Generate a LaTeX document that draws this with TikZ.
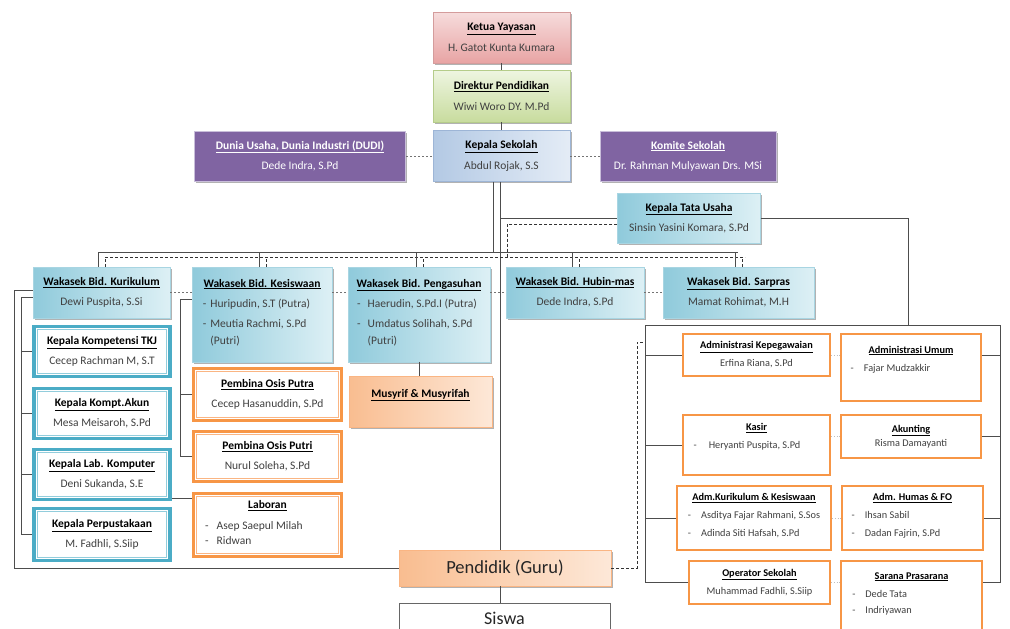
\documentclass[tikz,border=0pt]{standalone}
\usepackage{fontspec}
\setmainfont{Carlito}
\usetikzlibrary{shadows}

\definecolor{namegray}{HTML}{404040}
\definecolor{linegray}{HTML}{4D4D4D}
\definecolor{ketuatop}{HTML}{F6DCDC}
\definecolor{ketuabot}{HTML}{E8A4A4}
\definecolor{ketualine}{HTML}{D49C9C}
\definecolor{dirtop}{HTML}{EEF5E1}
\definecolor{dirbot}{HTML}{C8DC9E}
\definecolor{dirline}{HTML}{B5CC8A}
\definecolor{kepleft}{HTML}{B3C9E4}
\definecolor{kepright}{HTML}{E4ECF6}
\definecolor{kepline}{HTML}{9DB5D6}
\definecolor{ungu}{HTML}{8064A2}
\definecolor{unguline}{HTML}{C9BEDA}
\definecolor{cyanleft}{HTML}{8FCADB}
\definecolor{cyanright}{HTML}{DDF0F5}
\definecolor{cyanline}{HTML}{A8D5E2}
\definecolor{tealbd}{HTML}{4BACC6}
\definecolor{tealin}{HTML}{92CDDC}
\definecolor{oranye}{HTML}{F79646}
\definecolor{oranyein}{HTML}{FAB583}
\definecolor{oranyeleft}{HTML}{F9BD90}
\definecolor{oranyeright}{HTML}{FDE8D8}

\colorlet{titlecolor}{black}
\newcommand{\boxtitle}[1]{\textcolor{titlecolor}{\underline{\textbf{#1}}}}
\newcommand{\dashlist}[2][5pt]{\begin{tabular}[t]{@{}l@{\hspace{#1}}l@{}}#2\end{tabular}}

\begin{document}
\begin{tikzpicture}[x=1pt,y=-1pt,
    conn/.style={draw=linegray,line width=0.9pt},
    dashconn/.style={draw=black!80,line width=0.8pt,dash pattern=on 3pt off 2pt},
    dotconn/.style={draw=black!55,line width=0.8pt,dash pattern=on 2pt off 2pt},
    faint/.style={draw=black!25,line width=0.7pt,dotted},
    orgbox/.style={rectangle,align=center,inner sep=2pt,text=namegray,
        font=\fontsize{11.5}{21}\selectfont},
    boxshadow/.style={drop shadow={shadow xshift=1.5pt,shadow yshift=-1.5pt,
        opacity=0.3,fill=black}},
    ketuabox/.style={orgbox,boxshadow,draw=ketualine,top color=ketuatop,bottom color=ketuabot},
    dirbox/.style={orgbox,boxshadow,draw=dirline,top color=dirtop,bottom color=dirbot},
    kepbox/.style={orgbox,boxshadow,draw=kepline,left color=kepleft,right color=kepright},
    ungubox/.style={orgbox,boxshadow,draw=unguline,line width=1pt,fill=ungu,text=white,
        font=\fontsize{11.5}{20}\selectfont,
        execute at begin node={\colorlet{titlecolor}{white}}},
    cyanbox/.style={orgbox,boxshadow,draw=cyanline,left color=cyanleft,right color=cyanright,
        font=\fontsize{11.5}{20}\selectfont},
    tealbox/.style={orgbox,draw=tealbd,line width=3.5pt,fill=white,
        font=\fontsize{11.5}{20}\selectfont},
    osisbox/.style={orgbox,draw=oranye,line width=3.5pt,fill=white,
        font=\fontsize{11.5}{20}\selectfont},
    orangebox/.style={orgbox,boxshadow,draw=oranyein,left color=oranyeleft,right color=oranyeright},
    stafbox/.style={orgbox,draw=oranye,line width=2.5pt,fill=white,
        font=\fontsize{10.3}{18}\selectfont},
]
\useasboundingbox (0,0) rectangle (1010,629);

% Yayasan and school leadership
\node[ketuabox,minimum width=137pt,minimum height=51pt] (ketua) at (501.5,37.5)
    {\boxtitle{Ketua Yayasan}\\H. Gatot Kunta Kumara};
\node[dirbox,minimum width=137pt,minimum height=52pt] (direktur) at (501.5,96)
    {\boxtitle{Direktur Pendidikan}\\Wiwi Woro DY. M.Pd};
\node[kepbox,minimum width=137pt,minimum height=51pt] (kepsek) at (501.5,156)
    {\boxtitle{Kepala Sekolah}\\Abdul Rojak, S.S};
\node[ungubox,minimum width=211pt,minimum height=50pt] (dudi) at (300,156)
    {\boxtitle{Dunia Usaha, Dunia Industri (DUDI)}\\Dede Indra, S.Pd};
\node[ungubox,minimum width=176pt,minimum height=50pt] (komite) at (688,156)
    {\boxtitle{Komite Sekolah}\\Dr. Rahman Mulyawan Drs. MSi};
\node[cyanbox,minimum width=143pt,minimum height=50pt] (tatausaha) at (689,218)
    {\boxtitle{Kepala Tata Usaha}\\Sinsin Yasini Komara, S.Pd};

% Wakasek row
\node[cyanbox,minimum width=137pt,minimum height=51pt] (kurikulum) at (101.5,292.5)
    {\boxtitle{Wakasek Bid. Kurikulum}\\Dewi Puspita, S.Si};
\node[cyanbox,minimum width=140pt,minimum height=95pt] (kesiswaan) at (262,314.5)
    {\boxtitle{Wakasek Bid. Kesiswaan}\\
     \dashlist[4pt]{- & Huripudin, S.T (Putra)\\ - & Meutia Rachmi, S.Pd\\[-3pt] & (Putri)}\hspace*{11pt}};
\node[cyanbox,minimum width=142pt,minimum height=95pt] (pengasuhan) at (419,314.5)
    {\boxtitle{Wakasek Bid. Pengasuhan}\\
     \dashlist[7pt]{- & Haerudin, S.Pd.I (Putra)\\ - & Umdatus Solihah, S.Pd\\[-3pt] & (Putri)}\hspace*{4pt}};
\node[cyanbox,minimum width=138pt,minimum height=51pt] (hubin) at (575,292.5)
    {\boxtitle{Wakasek Bid. Hubin-mas}\\Dede Indra, S.Pd};
\node[cyanbox,minimum width=151pt,minimum height=51pt] (sarpras) at (738.5,292.5)
    {\boxtitle{Wakasek Bid. Sarpras}\\Mamat Rohimat, M.H};

% Kurikulum staff
\node[tealbox,minimum width=136pt,minimum height=50pt] (tkj) at (102,351.5)
    {\boxtitle{Kepala Kompetensi TKJ}\\Cecep Rachman M, S.T};
\node[tealbox,minimum width=136pt,minimum height=50pt] (akun) at (102,413.5)
    {\boxtitle{Kepala Kompt.Akun}\\Mesa Meisaroh, S.Pd};
\node[tealbox,minimum width=136pt,minimum height=50pt] (lab) at (102,474.5)
    {\boxtitle{Kepala Lab. Komputer}\\Deni Sukanda, S.E};
\node[tealbox,minimum width=136pt,minimum height=52pt] (perpus) at (102,534.5)
    {\boxtitle{Kepala Perpustakaan}\\M. Fadhli, S.Siip};
\foreach \n in {tkj,akun,lab,perpus}
    \draw[tealin,line width=0.8pt] ([shift={(5pt,-5pt)}]\n.north west)
        rectangle ([shift={(-5pt,5pt)}]\n.south east);

% Kesiswaan staff and Laboran
\node[osisbox,minimum width=148pt,minimum height=52pt] (osisputra) at (267.5,394.5)
    {\boxtitle{Pembina Osis Putra}\\Cecep Hasanuddin, S.Pd};
\node[osisbox,minimum width=148pt,minimum height=50pt] (osisputri) at (267.5,456.5)
    {\boxtitle{Pembina Osis Putri}\\Nurul Soleha, S.Pd};
\node[osisbox,minimum width=148pt,minimum height=63pt,font=\fontsize{11.5}{15}\selectfont] (laboran) at (267.5,525)
    {\boxtitle{Laboran}\\[6pt]
     \dashlist[8pt]{- & Asep Saepul Milah\\ - & Ridwan}\hspace*{27pt}};
\foreach \n in {osisputra,osisputri,laboran}
    \draw[oranyein,line width=0.8pt] ([shift={(5pt,-5pt)}]\n.north west)
        rectangle ([shift={(-5pt,5pt)}]\n.south east);

\node[orangebox,minimum width=143pt,minimum height=51pt] (musyrif) at (420.5,401.5)
    {\boxtitle{Musyrif \& Musyrifah}\\[-4pt]~};
\node[orangebox,minimum width=212pt,minimum height=36pt,text=black!85,
    font=\fontsize{18.5}{20}\selectfont] (pendidik) at (505,568) {Pendidik (Guru)};
\node[orgbox,draw=black!60,line width=1pt,fill=white,minimum width=211pt,minimum height=30pt,
    text=black!85,font=\fontsize{18}{20}\selectfont] (siswa) at (504.5,618) {Siswa};

% Tata usaha staff
\node[stafbox,minimum width=147pt,minimum height=42pt] (pegawai) at (756.5,355)
    {\boxtitle{Administrasi Kepegawaian}\\Erfina Riana, S.Pd};
\node[stafbox,minimum width=140pt,minimum height=67pt] (umum) at (911,367.5)
    {\boxtitle{Administrasi Umum}\\\dashlist[10pt]{- & Fajar Mudzakkir}\hspace*{41pt}\null\\~};
\node[stafbox,minimum width=147pt,minimum height=60pt] (kasir) at (756.5,445)
    {\boxtitle{Kasir}\\\dashlist[12pt]{- & Heryanti Puspita, S.Pd}\hspace*{19pt}\null\\~};
\node[stafbox,minimum width=140pt,minimum height=43pt] (akunting) at (911,436.5)
    {\boxtitle{Akunting}\\[-4pt]Risma Damayanti};
\node[stafbox,minimum width=154pt,minimum height=64pt] (admkur) at (754,518)
    {\boxtitle{Adm.Kurikulum \& Kesiswaan}\\
     \dashlist[10pt]{- & Asditya Fajar Rahmani, S.Sos\\ - & Adinda Siti Hafsah, S.Pd}};
\node[stafbox,minimum width=141pt,minimum height=64pt] (humas) at (912.5,518)
    {\boxtitle{Adm. Humas \& FO}\\
     \dashlist[10pt]{- & Ihsan Sabil\\ - & Dadan Fajrin, S.Pd}\hspace*{33pt}};
\node[stafbox,minimum width=141pt,minimum height=43pt] (operator) at (759.5,582.5)
    {\boxtitle{Operator Sekolah}\\Muhammad Fadhli, S.Siip};
\node[stafbox,minimum width=141pt,minimum height=88pt] (sarana) at (911.5,605)
    {\boxtitle{Sarana Prasarana}\\
     \dashlist[10pt]{- & Dede Tata\\[-2pt] - & Indriyawan}\hspace*{59pt}\null\\~\\~};

% chain of command at the top
\draw[conn] (ketua) -- (direktur);
\draw[conn] (direktur) -- (kepsek);
\draw[dotconn] (dudi) -- (kepsek);
\draw[dotconn] (kepsek) -- (komite);

% lines down from Kepala Sekolah
\coordinate (barL) at (98,252);
\coordinate (barR) at (738,252);
\coordinate (dashL) at (105,257);
\coordinate (dashR) at (745,257);
\coordinate (tujoin) at (507,257);
\draw[conn] ([xshift=-8pt]kepsek.south) -- ([xshift=-8pt]kepsek.south |- barL);
\draw[conn] ([xshift=-1.5pt]kepsek.south) -- ([xshift=-1.5pt]kepsek.south |- pendidik.north);
\draw[conn] ([xshift=-1.5pt]kepsek.south |- tatausaha.west) -- (tatausaha.west);
\draw[conn] (barL) -- (barR);
\draw[dashconn] ([yshift=-6pt]tatausaha.west) -| (tujoin);
\draw[dashconn] (dashL) -- (dashR);
\foreach \n in {kurikulum,kesiswaan,pengasuhan,hubin,sarpras}{
    \draw[conn] ([xshift=-3pt]\n.north) -- ([xshift=-3pt]\n.north |- barL);
    \draw[dashconn] ([xshift=4pt]\n.north) -- ([xshift=4pt]\n.north |- dashL);
}

% dotted links between the Wakasek
\draw[dotconn] (kurikulum.east) -- (kurikulum.east -| kesiswaan.west)
    (kurikulum.east -| kesiswaan.east) -- (kurikulum.east -| pengasuhan.west)
    (kurikulum.east -| pengasuhan.east) -- (hubin.west)
    (hubin.east) -- (sarpras.west);

% Kurikulum: outer line to the Guru, inner line to the heads
\draw[conn] ([yshift=2pt]kurikulum.west) -- ++(-18,0) |- (pendidik.west);
\draw[conn] ([yshift=-5pt]kurikulum.west) -- ++(-11,0) coordinate (kspine) |- (perpus.west);
\foreach \n in {tkj,akun,lab}
    \draw[conn] (kspine |- \n.west) -- (\n.west);

% Kesiswaan to Pembina Osis
\draw[conn] ([yshift=15pt]kesiswaan.west) -- ++(-11,0) coordinate (sspine) |- (osisputri.west);
\draw[conn] (sspine |- osisputra.west) -- (osisputra.west);

% Lab to Laboran, Pengasuhan to Musyrif, Guru to Siswa
\coordinate (labin) at ([yshift=-7pt]laboran.north west);
\draw[conn] (lab.east |- labin) -- (labin);
\draw[conn] (pengasuhan.south) -- (pengasuhan.south |- musyrif.north);
\draw[conn] ([xshift=-1.5pt]kepsek.south |- pendidik.south) -- ([xshift=-1.5pt]kepsek.south |- siswa.north);

% Tata usaha frame
\coordinate (tuturn) at (908,325);
\coordinate (frameL) at (645,325);
\coordinate (frameR) at (1000,325);
\draw[conn] (tatausaha.east) -| (tuturn);
\draw[conn] (frameL) -- (frameR);
\draw[conn] (frameL) |- (operator.west);
\foreach \n in {pegawai,kasir,admkur}
    \draw[conn] (frameL |- \n.west) -- (\n.west);
\draw[conn] (frameR) |- (sarana.east |- operator.east);
\draw[conn] (frameR |- pegawai.east) -- (umum.east |- pegawai.east);
\foreach \n in {akunting,humas}
    \draw[conn] (frameR |- \n.east) -- (\n.east);
\draw[faint] (pegawai.east) -- (umum.west |- pegawai.east);
\draw[faint] (kasir.east |- akunting.west) -- (akunting.west);
\draw[faint] (admkur.east) -- (humas.west);
\draw[faint] (operator.east) -- (sarana.west |- operator.east);

% Guru to tata usaha
\coordinate (gurujoin) at (637,342);
\draw[dashconn] (pendidik.east) -| (gurujoin) -- (frameL |- gurujoin);
\end{tikzpicture}
\end{document}
